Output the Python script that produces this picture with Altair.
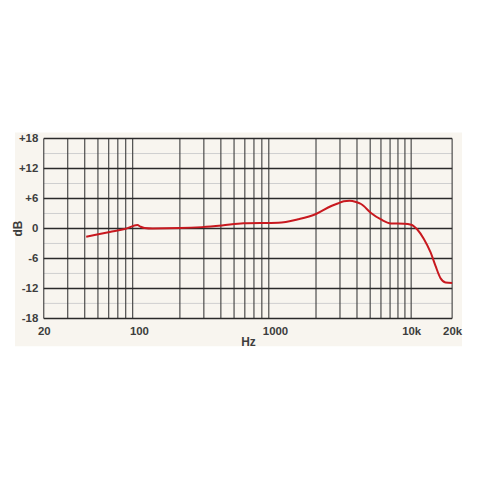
import altair as alt
import pandas as pd

# Frequency response curve (Hz, dB)
freq = [41, 61, 80, 97.5, 103, 110, 126, 200, 291, 407, 586, 1056, 1478, 2000,
        2590, 2894, 3200, 3524, 3937, 4285, 5070, 6000, 7090, 8870, 10000, 11100,
        12400, 13900, 15100, 16400, 17900, 20000]
db = [-1.65, -0.7, -0.05, 0.7, 0.35, 0.1, 0.0, 0.07, 0.27, 0.6, 1.05, 1.15, 1.85,
      2.9, 4.5, 5.0, 5.45, 5.55, 5.3, 4.9, 3.1, 1.8, 1.0, 0.95, 0.75, -0.2, -2.1,
      -4.8, -7.5, -9.9, -10.8, -10.9]

# Grid and tick values
v_grid = [m * d for d in (10, 100, 1000) for m in range(2, 10)] + [10000, 20000]
h_major = [-18, -12, -6, 0, 6, 12, 18]
h_minor = [-15, -9, -3, 3, 9, 15]
x_ticks = [20, 100, 1000, 10000, 20000]

LABEL = "#3d3d3d"
FONT = "Liberation Sans"

xscale = alt.Scale(type="log", domain=[20, 20000], nice=False)
yscale = alt.Scale(domain=[-18, 18], nice=False)

xaxis = alt.Axis(values=x_ticks, grid=False, domain=False, ticks=False, zindex=2,
                 labelExpr="datum.value == 10000 ? '10k' : datum.value == 20000 ? '20k' : '' + datum.value",
                 labelFont=FONT, labelFontSize=11.5, labelFontWeight="bold",
                 labelColor=LABEL, labelPadding=7, labelFlush=False, labelOverlap=False,
                 labelBound=False,
                 title="Hz", titleFont=FONT, titleFontSize=12, titleFontWeight="bold",
                 titleColor=LABEL, titleBaseline="alphabetic", titleY=27)
yaxis = alt.Axis(values=h_major, grid=False, domain=False, ticks=False, zindex=2,
                 labelExpr="datum.value > 0 ? '+' + datum.value : '' + datum.value",
                 labelFont=FONT, labelFontSize=11.5, labelFontWeight="bold",
                 labelColor=LABEL, labelPadding=6, labelFlush=False, labelOverlap=False,
                 title="dB", titleFont=FONT, titleFontSize=12, titleFontWeight="bold",
                 titleColor=LABEL, titleAngle=270, titleAlign="center",
                 titleBaseline="middle", titleX=-26, titleY=90)

X = lambda: alt.X("f:Q", scale=xscale, axis=xaxis)
Y = lambda: alt.Y("db:Q", scale=yscale, axis=yaxis)

panel = alt.Chart(alt.Data(values=[{}])).mark_rect(color="#f8f5ef").encode(
    x=alt.value(-29), x2=alt.value(421), y=alt.value(-6), y2=alt.value(209)
)

minor = alt.Chart(pd.DataFrame({"db": h_minor})).mark_rule(
    color="#cfcfcf", strokeWidth=1
).encode(y=Y())

vert = alt.Chart(pd.DataFrame({"f": v_grid})).mark_rule(
    color="#3c3c3c", strokeWidth=1.1
).encode(x=X())

major = alt.Chart(pd.DataFrame({"db": h_major})).mark_rule(
    color="#2a2a2a", strokeWidth=1.5
).encode(y=Y())

curve = alt.Chart(pd.DataFrame({"f": freq, "db": db})).mark_line(
    color="#c8191f", strokeWidth=2, interpolate="monotone"
).encode(x=X(), y=Y())

chart = alt.layer(panel, minor, vert, major, curve).properties(
    width=411, height=181,
    padding={"left": 36, "top": 130, "right": 20, "bottom": 120},
    autosize=alt.AutoSizeParams(type="none"),
    background="white",
).configure_view(stroke=None, fill="#f8f5ef")

chart.save("out.html", embed_options={"renderer": "svg", "actions": False})
